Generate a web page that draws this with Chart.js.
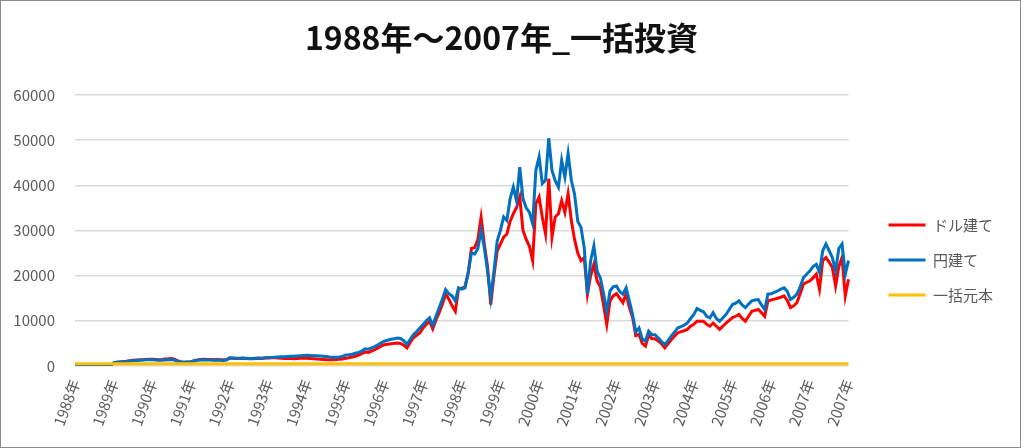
<!DOCTYPE html>
<html>
<head>
<meta charset="utf-8">
<script src="https://cdn.jsdelivr.net/npm/chart.js@4.4.0/dist/chart.umd.min.js"></script>
<style>
  html, body { margin: 0; padding: 0; background: #fff; }
  #wrap { position: relative; width: 1024px; height: 448px; }
  #frame { position: absolute; left: 0; top: 0; width: 1019px; height: 446px; border: 1px solid #8c8c8c; pointer-events: none; }
</style>
</head>
<body>
<div id="wrap">
  <canvas id="myChart" width="1024" height="448"></canvas>
  <div id="frame"></div>
</div>
<script>
// tick labels, one per year (the last point is the end of 2007)
const yearTicks = ['1988年','1989年','1990年','1991年','1992年','1993年','1994年','1995年','1996年','1997年',
  '1998年','1999年','2000年','2001年','2002年','2003年','2004年','2005年','2006年','2007年'];

// monthly values, Jan 1988 .. Dec 2007
const dollarValues = [
  0,0,0,0,0,0,0,0,0,0,0,0,
  700,830,900,980,1050,1150,1250,1300,1350,1400,1450,1500,
  1500,1450,1400,1450,1550,1600,1670,1450,1100,880,800,850,
  950,1150,1350,1450,1500,1450,1450,1400,1450,1400,1350,1400,
  1750,1700,1650,1650,1700,1650,1600,1600,1650,1700,1650,1750,
  1750,1800,1800,1750,1700,1650,1650,1650,1600,1650,1700,1750,
  1700,1650,1600,1550,1500,1450,1400,1380,1400,1450,1500,1550,
  1700,1800,1950,2150,2400,2700,3100,3000,3300,3600,4000,4400,
  4700,4800,4900,5000,5100,5000,4600,4000,5200,6200,6800,7300,
  8400,9200,9900,8200,10200,11800,13700,15900,14800,13300,12100,17000,
  17200,17500,20500,26000,26200,28000,32900,27000,22000,13600,20000,25500,
  27000,28500,29200,32000,33700,35100,37400,30000,28000,26500,23300,35900,
  37400,32900,29200,41500,28500,33000,33700,36600,34000,38100,32200,28000,
  25000,23300,24000,15900,20000,22500,18800,17500,13500,9200,14400,15500,
  16000,15000,14000,16000,13000,10800,6700,7000,5000,4400,6900,6000,
  6000,5500,4900,4000,4900,5800,6600,7300,7600,7800,8100,8800,
  9200,9900,9900,9900,9200,8800,9500,8800,8100,8800,9500,10100,
  10700,11000,11400,10500,9900,11000,12100,12300,12500,11800,11000,14400,
  14600,14800,15000,15200,15500,14500,12900,13300,14000,16000,18100,18500,
  18800,19500,20300,17000,23300,24000,23000,21800,17700,22000,24000,15500,19200
];

const yenValues = [
  0,0,0,0,0,0,0,0,0,0,0,0,
  700,820,880,950,1000,1100,1150,1200,1250,1300,1350,1380,
  1350,1300,1250,1250,1300,1350,1400,1250,1000,850,820,850,
  950,1100,1250,1300,1350,1300,1300,1250,1300,1250,1200,1300,
  1800,1750,1700,1700,1750,1700,1650,1650,1700,1750,1700,1800,
  1850,1900,1950,2000,2050,2050,2100,2150,2150,2200,2250,2300,
  2350,2300,2250,2250,2200,2150,2100,2000,1950,1950,2000,2100,
  2450,2500,2600,2800,3000,3300,3800,3700,4000,4300,4700,5100,
  5500,5700,5900,6000,6200,6100,5600,4800,5900,6900,7600,8400,
  9200,10000,10650,9000,11000,12900,14800,16900,16000,15500,14400,17300,
  17000,17300,20700,25000,24800,26000,30000,26200,21000,15100,21000,27700,
  30000,33000,32200,37000,39600,36600,44000,37000,35000,34000,31500,43300,
  46300,40400,41100,50400,43300,41000,39600,45500,41800,47000,41100,38000,
  32000,30700,26200,15900,23300,26600,21000,19500,16000,12100,16600,17500,
  17700,16500,15900,17300,14400,11400,7500,8400,6000,5500,7700,6900,
  6900,6200,5400,4700,5600,6600,7500,8400,8700,9000,9500,10500,
  11400,12700,12300,12000,11000,10650,11800,10500,9900,10600,11400,12500,
  13600,13900,14400,13500,12900,13700,14400,14600,14700,13500,12500,15900,
  16000,16300,16600,17000,17300,16500,14700,15200,15900,17500,19500,20300,
  21000,22000,22500,20700,25500,27000,25500,24000,21000,26000,27000,20300,23300
];

const principalAmount = 500;

const labels = dollarValues.map((v, i) => yearTicks[Math.min(Math.floor(i / 12), yearTicks.length - 1)]);
const principalValues = labels.map(() => principalAmount);
const lastIndex = labels.length - 1;

const fontFamily = '"Noto Sans CJK JP", "Noto Sans", sans-serif';

const ctx = document.getElementById('myChart').getContext('2d');
const myChart = new Chart(ctx, {
  type: 'line',
  data: {
    labels: labels,
    datasets: [
      {
        label: 'ドル建て',
        data: dollarValues,
        borderColor: '#ff0000',
        backgroundColor: '#ff0000',
        borderWidth: 3,
        order: 3
      },
      {
        label: '円建て',
        data: yenValues,
        borderColor: '#0070c0',
        backgroundColor: '#0070c0',
        borderWidth: 3,
        order: 2
      },
      {
        label: '一括元本',
        data: principalValues,
        borderColor: '#ffc000',
        backgroundColor: '#ffc000',
        borderWidth: 3,
        order: 1
      }
    ]
  },
  options: {
    responsive: false,
    animation: false,
    elements: { point: { radius: 0 }, line: { tension: 0 } },
    layout: { padding: { left: 0, right: 21, top: 0, bottom: 16.5 } },
    plugins: {
      title: {
        display: true,
        text: '1988年～2007年_一括投資',
        color: '#111',
        font: { family: fontFamily, size: 32, weight: 'bold' },
        padding: { top: 19, bottom: 37.5 }
      },
      legend: {
        position: 'right',
        title: {
          display: true,
          text: ' ',
          font: { size: 10 },
          padding: { top: 38.25, bottom: 38.25 }
        },
        labels: {
          usePointStyle: true,
          pointStyle: 'line',
          pointStyleWidth: 37,
          color: '#595959',
          font: { family: fontFamily, size: 15 },
          padding: 20,
          sort: (a, b) => a.datasetIndex - b.datasetIndex
        }
      },
      tooltip: { enabled: false }
    },
    scales: {
      x: {
        grid: { display: false },
        border: { display: false },
        ticks: {
          autoSkip: false,
          maxRotation: 70,
          minRotation: 70,
          color: '#595959',
          font: { family: fontFamily, size: 15 },
          callback: function (val, i) {
            return (i % 12 === 0 || i === lastIndex) ? labels[i] : '';
          }
        }
      },
      y: {
        min: 0,
        max: 60000,
        grid: { color: '#d9d9d9', lineWidth: 1.5, drawTicks: false },
        border: { display: false },
        afterFit: scale => { scale.width = 75; },
        ticks: {
          stepSize: 10000,
          padding: 20,
          color: '#595959',
          font: { family: fontFamily, size: 15 },
          callback: v => v
        }
      },
      // empty gap between the plot and the legend
      gap: {
        type: 'linear',
        position: 'right',
        grid: { display: false },
        border: { display: false },
        ticks: { display: false },
        afterFit: scale => { scale.width = 20; }
      }
    }
  }
});
</script>
</body>
</html>
